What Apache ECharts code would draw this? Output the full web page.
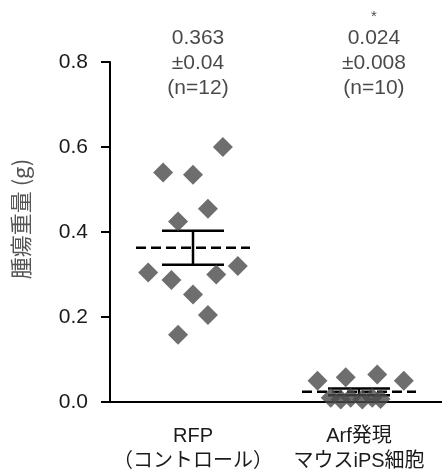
<!DOCTYPE html>
<html>
<head>
<meta charset="utf-8">
<script src="https://cdn.jsdelivr.net/npm/echarts@6/dist/echarts.min.js"></script>
<style>
  html, body { margin: 0; padding: 0; background: #fff; }
  #chart { width: 442px; height: 474px; }
</style>
</head>
<body>
<div id="chart"></div>
<script>
// 群の名前
var categories = ['RFP\n（コントロール）', 'Arf発現\nマウスiPS細胞'];

// 個体ごとの腫瘍重量 [群内の横ずらし, 重量(g)]
var rfpPoints = [
    [0.18, 0.600], [-0.18, 0.540], [0.00, 0.535], [0.09, 0.455],
    [-0.09, 0.425], [-0.27, 0.305], [0.27, 0.320], [-0.13, 0.287],
    [0.14, 0.300], [0.00, 0.253], [0.09, 0.205], [-0.09, 0.158]
];
var arfPoints = [
    [-0.25, 0.050], [-0.08, 0.058], [0.11, 0.065], [0.27, 0.050],
    [-0.17, 0.010], [-0.11, 0.006], [-0.05, 0.010], [0.02, 0.006],
    [0.08, 0.010], [0.13, 0.007]
];

// 平均 ± SEM
var means = [0.363, 0.024];
var sems = [0.04, 0.008];
var counts = [12, 10];
var semLabels = ['0.04', '0.008'];
var sigMarks = [' ', '*'];
var annotX = [0.03, 1.09];

var yTicks = { min: 0, max: 0.8, interval: 0.2 };

var fontEn = '"Liberation Sans", Arial, sans-serif';
var fontMix = '"Liberation Sans", "Noto Sans CJK JP", sans-serif';
var fontJa = '"Noto Sans CJK JP", "Liberation Sans", sans-serif';

var chart = echarts.init(document.getElementById('chart'));

var pointData = [];
rfpPoints.forEach(function (p) { pointData.push([0 + p[0], p[1]]); });
arfPoints.forEach(function (p) { pointData.push([1 + p[0], p[1]]); });

var summaryData = means.map(function (m, i) { return [i, m, sems[i]]; });
var annotData = annotX.map(function (x, i) { return [x, yTicks.max, i]; });

var option = {
    animation: false,
    backgroundColor: '#fff',
    grid: { left: 110, right: 0, top: 62, bottom: 72 },
    xAxis: [{
        type: 'category',
        data: categories,
        axisLine: { lineStyle: { color: '#000', width: 2 } },
        axisTick: { alignWithLabel: true, length: 6, lineStyle: { color: '#000', width: 2 } },
        axisLabel: {
            color: '#1a1a1a', fontSize: 20, lineHeight: 25, margin: 22,
            fontFamily: fontMix, interval: 0
        },
        splitLine: { show: false }
    }, {
        type: 'value', min: -0.5, max: 1.5, show: false
    }],
    yAxis: {
        type: 'value',
        min: yTicks.min, max: yTicks.max, interval: yTicks.interval,
        name: '腫瘍重量 (g)',
        nameLocation: 'middle',
        nameGap: 78,
        nameTextStyle: { color: '#555', fontSize: 22, fontFamily: fontJa, padding: [0, 0, 0, 26] },
        axisLine: { show: true, onZero: false, lineStyle: { color: '#000', width: 2 } },
        axisTick: { show: true, length: 9, lineStyle: { color: '#000', width: 2 } },
        axisLabel: {
            color: '#1a1a1a', fontSize: 21, margin: 22, fontFamily: fontEn,
            formatter: function (v) { return v.toFixed(1); }
        },
        splitLine: { show: false }
    },
    series: [{
        type: 'scatter',
        xAxisIndex: 1,
        symbol: 'diamond',
        symbolSize: 20,
        itemStyle: { color: '#4a4a4a' },
        data: pointData
    }, {
        type: 'custom',
        xAxisIndex: 1,
        data: summaryData,
        renderItem: function (params, api) {
            var c = api.coord([api.value(0), api.value(1)]);
            var hi = api.coord([api.value(0), api.value(1) + api.value(2)]);
            var lo = api.coord([api.value(0), api.value(1) - api.value(2)]);
            var solid = { stroke: '#000', lineWidth: 2.5 };
            return {
                type: 'group',
                children: [
                    { type: 'line', shape: { x1: c[0] - 57, y1: c[1], x2: c[0] + 57, y2: c[1] },
                      style: { stroke: '#000', lineWidth: 2.5, lineDash: [10, 5] } },
                    { type: 'line', shape: { x1: c[0], y1: hi[1], x2: c[0], y2: lo[1] }, style: solid },
                    { type: 'line', shape: { x1: c[0] - 31, y1: hi[1], x2: c[0] + 31, y2: hi[1] }, style: solid },
                    { type: 'line', shape: { x1: c[0] - 31, y1: lo[1], x2: c[0] + 31, y2: lo[1] }, style: solid }
                ]
            };
        }
    }, {
        type: 'scatter',
        xAxisIndex: 1,
        symbolSize: 1,
        itemStyle: { color: 'transparent' },
        silent: true,
        data: annotData,
        label: {
            show: true,
            position: 'inside',
            offset: [0, -8],
            color: '#1a1a1a',
            fontFamily: fontEn,
            formatter: function (p) {
                var i = p.value[2];
                return '{s|' + sigMarks[i] + '}\n{t|' + means[i].toFixed(3) + '}\n{t|±' +
                    semLabels[i] + '}\n{t|(n=' + counts[i] + ')}';
            },
            rich: {
                s: { fontSize: 15, lineHeight: 18, color: '#1a1a1a', fontFamily: fontEn },
                t: { fontSize: 21, lineHeight: 25, color: '#1a1a1a', fontFamily: fontEn }
            }
        }
    }]
};

chart.setOption(option);
</script>
</body>
</html>
